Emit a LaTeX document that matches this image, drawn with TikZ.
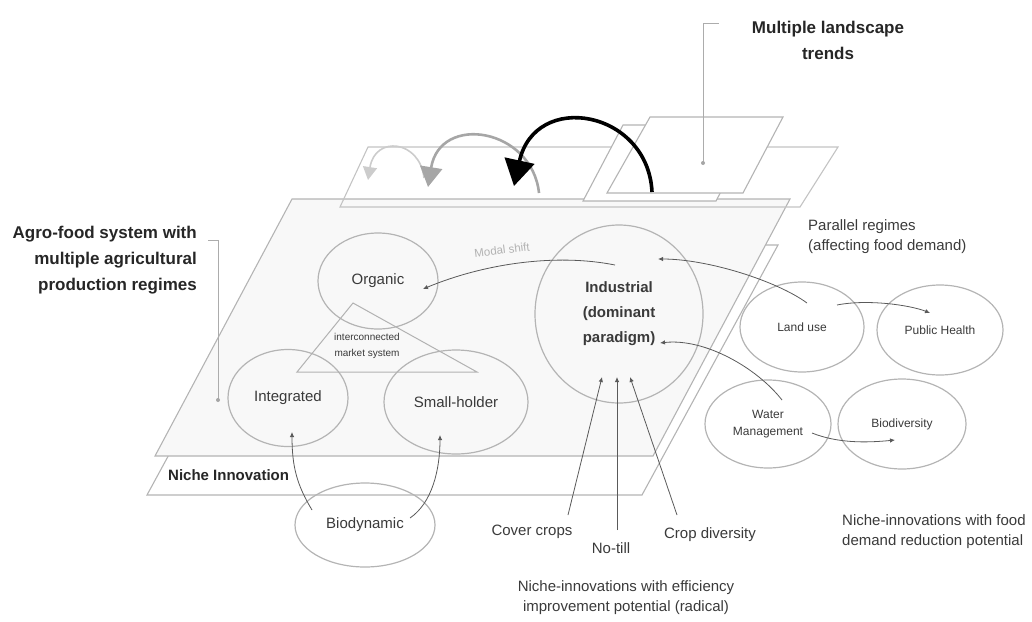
\documentclass[tikz,border=0pt]{standalone}
\usepackage{fontspec}
\setmainfont{Liberation Sans}
\usetikzlibrary{shapes.geometric,arrows.meta}
\definecolor{txt}{HTML}{3A3A3A}
\definecolor{edgecol}{HTML}{B4B4B4}
\definecolor{conncol}{HTML}{5A5A5A}
\definecolor{planefill}{HTML}{F8F8F8}
\begin{document}
\begin{tikzpicture}[x=1pt,y=-1pt,
  plane/.style={draw=edgecol, line width=1.1pt, line join=miter},
  reg/.style={ellipse, draw=edgecol, line width=1.2pt, inner sep=0pt, text=txt, align=center, font=\fontsize{15}{18}\selectfont},
  regs/.style={reg, font=\fontsize{12}{17}\selectfont},
  lbl/.style={text=txt, align=center, inner sep=0pt, font=\fontsize{15}{20}\selectfont},
  headtxt/.style={text=black!85, inner sep=0pt, font=\bfseries\fontsize{17}{26}\selectfont},
  conn/.style={draw=conncol, line width=0.8pt, -{Latex[length=5pt,width=4.5pt]}},
  leader/.style={draw=gray!65, line width=0.8pt},
]
\useasboundingbox (0,0) rectangle (1032,621);

% ---- planes ----
\draw[plane, fill=white] (283,245) -- (778,245) -- (642,495) -- (147,495) -- cycle;
\draw[plane, fill=planefill] (292,199) -- (790,199) -- (653,456) -- (155,456) -- cycle;
\draw[plane, draw=edgecol!80] (368,147) -- (838,147) -- (800,207) -- (340,207) -- cycle;
\draw[plane, fill=white] (623,125) -- (756,125) -- (716,201) -- (583,201) -- cycle;
\draw[plane, fill=white] (650,117) -- (783,117) -- (743,193) -- (607,193) -- cycle;

% ---- landscape arrows ----
\draw[draw=gray!40, line width=1.6pt, -{Triangle[length=13pt,width=14pt]}]
  (424,178) .. controls (420,140) and (375,135) .. (368,180);
\draw[draw=gray!70, line width=2.6pt, -{Triangle[length=20pt,width=22pt]}]
  (539,193) .. controls (532,128) and (440,113) .. (428,187);
\draw[draw=black, line width=3.6pt, -{Triangle[length=26pt,width=30pt]}]
  (652,192) .. controls (648,110) and (535,90) .. (514,186);

% ---- headings and leaders ----
\node[headtxt, align=center] (land) at (828,40) {Multiple landscape\\trends};
\coordinate (landdot) at (703,163);
\draw[leader] ([shift={(-33,-17)}]land.west) -| (landdot);
\fill[gray!70] (landdot) circle (2pt);

\node[headtxt, align=right, anchor=east] (agro) at (197,260) {Agro-food system with\\multiple agricultural\\production regimes};
\coordinate (agrodot) at (218,400);
\draw[leader] ([shift={(11,-20)}]agro.east) -| (agrodot);
\fill[gray!70] (agrodot) circle (2pt);

\node[headtxt, font=\bfseries\fontsize{15}{18}\selectfont, anchor=west] (niche) at (168,475) {Niche Innovation};

% ---- regimes ----
\node[reg, minimum width=120pt, minimum height=96pt] (org) at (378,281) {Organic};
\node[reg, minimum width=120pt, minimum height=97pt] (int) at (288,398) {Integrated};
\node[reg, minimum width=144pt, minimum height=104pt] (sh) at (456,402) {Small-holder};
\node[reg, minimum width=168pt, minimum height=178pt, font=\bfseries\fontsize{15}{25}\selectfont] (ind) at (619,314) {Industrial\\(dominant\\paradigm)};

\draw[draw=gray!60, line width=1pt, line join=miter] (353,303) -- (477,372) -- (297,372) -- cycle;
\node[text=txt, align=center, font=\fontsize{10}{16}\selectfont] (market) at (367,346) {interconnected\\market system};

\node[regs, minimum width=124pt, minimum height=90pt] (landuse) at (802,327) {Land use};
\node[regs, minimum width=126pt, minimum height=90pt] (ph) at (940,330) {Public Health};
\node[regs, minimum width=126pt, minimum height=88pt] (water) at (768,424) {Water\\Management};
\node[regs, minimum width=128pt, minimum height=90pt] (bio) at (902,424) {Biodiversity};
\node[reg, minimum width=140pt, minimum height=84pt] (bd) at (365,525) {Biodynamic};

% ---- labels ----
\node[lbl] (cover) at (532,532) {Cover crops};
\node[lbl] (notill) at (611,548) {No-till};
\node[lbl] (cropdiv) at (710,535) {Crop diversity};
\node[lbl] (eff) at (626,598) {Niche-innovations with efficiency\\improvement potential (radical)};
\node[lbl, align=left, anchor=west] (food) at (842,532) {Niche-innovations with food\\demand reduction potential};
\node[lbl, align=left, anchor=west] (par) at (808,237) {Parallel regimes\\(affecting food demand)};
\node[text=gray!60, rotate=7, font=\fontsize{11.5}{14}\selectfont] (modal) at (502,250) {Modal shift};

% ---- connectors ----
\draw[conn] ([shift={(-4,-49)}]ind.center) .. controls +(-60,-12) and +(60,-25) .. ([shift={(45,8)}]org.center);
\draw[conn] ([shift={(5,-24)}]landuse.center) .. controls +(-30,-22) and +(50,0) .. ([shift={(39,-55)}]ind.center);
\draw[conn] ([shift={(14,-24)}]water.center) .. controls +(-25,-32) and +(45,-5) .. ([shift={(41,29)}]ind.center);
\draw[conn] ([shift={(35,-22)}]landuse.center) .. controls +(30,-6) and +(-20,-8) .. ([shift={(-10,-17)}]ph.center);
\draw[conn] ([shift={(44,9)}]water.center) .. controls +(25,10) and +(-30,3) .. ([shift={(-7,16)}]bio.center);
\draw[conn] ([shift={(36,-17)}]cover.center) -- ([shift={(-17,63)}]ind.center);
\draw[conn] ([shift={(6,-18)}]notill.center) -- ([shift={(-2,63)}]ind.center);
\draw[conn] ([shift={(-33,-20)}]cropdiv.center) -- ([shift={(11,63)}]ind.center);
\draw[conn] ([shift={(-53,-15)}]bd.center) .. controls +(-15,-25) and +(0,35) .. ([shift={(4,34)}]int.center);
\draw[conn] ([shift={(45,-7)}]bd.center) .. controls +(22,-15) and +(0,35) .. ([shift={(-16,33)}]sh.center);
\end{tikzpicture}
\end{document}
